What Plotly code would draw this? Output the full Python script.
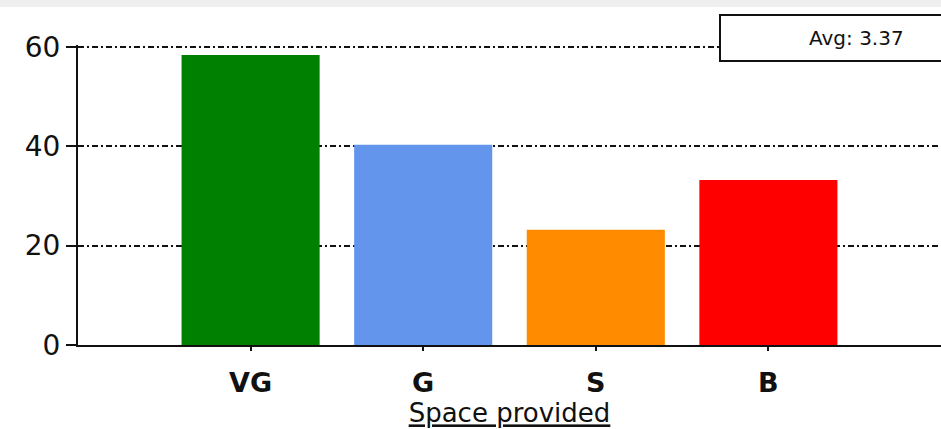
import plotly.graph_objects as go

categories = ["VG", "G", "S", "B"]
values = [58.4, 40.3, 23.2, 33.2]
colors = ["#008000", "#6495ED", "#FF8C00", "#FF0000"]
y_ticks = [0, 20, 40, 60]
avg_label = "Avg: 3.37"
x_title = "Space provided"

W, H = 941, 429
L, R, T, B = 78, 0, 45, 84
pw, ph = W - L - R, H - T - B

def px_x(px):  # screen px -> paper
    return (px - L) / pw

def px_y(py):
    return (H - B - py) / ph

fig = go.Figure()
fig.add_trace(go.Bar(
    x=categories, y=values, marker=dict(color=colors, line=dict(width=0)),
    width=0.8, showlegend=False, hoverinfo="skip",
))

fig.update_layout(
    width=W, height=H,
    margin=dict(l=L, r=R, t=T, b=B, pad=0),
    paper_bgcolor="white", plot_bgcolor="white",
    font=dict(family="DejaVu Sans", color="#111"),
    xaxis=dict(
        type="category", categoryarray=categories, range=[-1, 4],
        automargin=False,
        showgrid=False, showline=True, linecolor="#111", linewidth=2,
        ticks="outside", ticklen=4, tickwidth=1.5, tickcolor="#111",
        tickfont=dict(family="DejaVu Sans", size=27, color="#111", weight="bold"),
        ticklabelstandoff=9,
        title=dict(text="<u>" + x_title + "</u>", font=dict(family="DejaVu Sans", size=26, color="#111"), standoff=0),
        zeroline=False,
    ),
    yaxis=dict(
        range=[0, 60.4], tickvals=y_ticks, ticktext=[str(v) for v in y_ticks],
        automargin=False,
        showgrid=True, gridcolor="#111", gridwidth=1.5, griddash="6px,3px,2px,3px",
        showline=True, linecolor="#111", linewidth=2,
        ticks="outside", ticklen=10, tickwidth=1.5, tickcolor="#111",
        tickfont=dict(family="DejaVu Sans", size=28, color="#111"),
        ticklabelstandoff=0,
        zeroline=False,
    ),
    shapes=[
        dict(type="rect", xref="paper", yref="paper",
             x0=px_x(-20), x1=px_x(W + 40), y0=px_y(7), y1=px_y(-10),
             fillcolor="#efefef", line=dict(width=0), layer="above"),
        dict(type="rect", xref="paper", yref="paper",
             x0=px_x(720), x1=px_x(W + 40), y0=px_y(61), y1=px_y(15),
             fillcolor="white", line=dict(color="#111", width=2), layer="above"),
    ],
    annotations=[
        dict(text=avg_label, xref="paper", yref="paper", x=px_x(856), y=px_y(38),
             xanchor="center", yanchor="middle", showarrow=False,
             font=dict(family="DejaVu Sans", size=20, color="#111")),
    ],
)

fig.write_html("out.html", config={"displayModeBar": False},
               post_script="document.body.style.margin='0';")
